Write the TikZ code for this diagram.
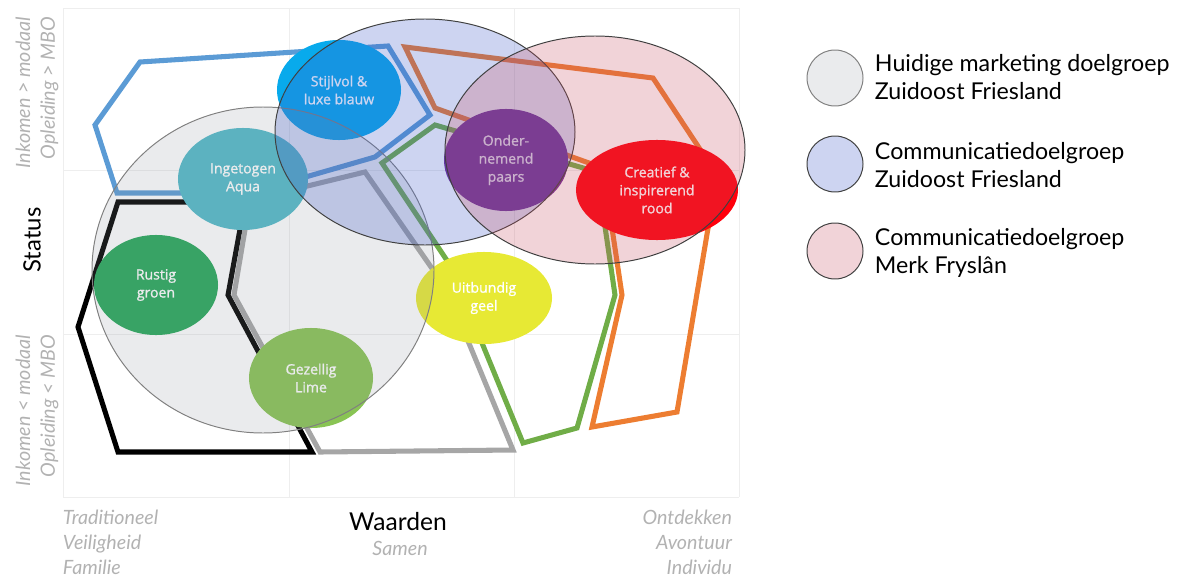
\documentclass[tikz,border=0pt]{standalone}
\usepackage{fontspec}
\setmainfont{Lato}
\newfontfamily\blobfont[FakeBold=1.2]{Open Sans}
\usetikzlibrary{shapes.geometric}

\definecolor{raster}{RGB}{238,238,238}
\definecolor{lijnblauw}{RGB}{91,155,213}
\definecolor{lijnoranje}{RGB}{237,125,49}
\definecolor{lijngroen}{RGB}{112,173,71}
\definecolor{lijngrijs}{RGB}{166,166,166}
\definecolor{stijlvol}{RGB}{8,170,236}
\definecolor{aqua}{RGB}{82,186,201}
\definecolor{rustig}{RGB}{38,168,90}
\definecolor{lime}{RGB}{137,196,84}
\definecolor{geel}{RGB}{231,233,52}
\definecolor{paars}{RGB}{112,44,150}
\definecolor{rood}{RGB}{255,0,12}
\definecolor{vulgrijs}{RGB}{140,145,155}
\definecolor{vulblauw}{RGB}{60,90,200}
\definecolor{vulroze}{RGB}{200,80,100}
\definecolor{asgrijs}{RGB}{178,178,178}

\begin{document}
\begin{tikzpicture}[x=0.025cm, y=-0.025cm,
    raster lijn/.style={raster, line width=0.6pt},
    profiel/.style={line width=3.6pt},
    blob/.style 2 args={ellipse, inner sep=0pt, minimum width=#1, minimum height=#2,
      text=white, align=center, font=\blobfont\fontsize{10}{12.8}\selectfont},
    doelgroep grijs/.style={fill=vulgrijs, fill opacity=0.18, draw=black!50, line width=0.7pt},
    doelgroep blauw/.style={fill=vulblauw, fill opacity=0.26, draw=black!75, line width=0.7pt},
    doelgroep roze/.style={fill=vulroze, fill opacity=0.25, draw=black!75, line width=0.7pt},
    as/.style={asgrijs, font=\itshape\fontsize{14}{17.7}\selectfont},
    legenda/.style={anchor=west, align=left, font=\fontsize{16.5}{20}\selectfont}]
  \useasboundingbox (0,0) rectangle (1183,578);

  % raster
  \foreach \x in {63,289,514,739}
    \draw[raster lijn] (\x,8) -- (\x,497);
  \foreach \y in {8,170,334,497}
    \draw[raster lijn] (63,\y) -- (739,\y);

  % profielen
  \draw[profiel, lijnblauw] (140,62) -- (95,125) -- (117,193) -- (250,193)
    -- (375,157) -- (430,115) -- (388,46) -- cycle;
  \draw[profiel, black] (118,202) -- (245,202) -- (228,295) -- (312,452)
    -- (118,452) -- (78,327) -- cycle;
  \draw[profiel, lijngrijs] (250,200) -- (365,172) -- (447,290) -- (513,450)
    -- (320,452) -- (234,295) -- cycle;
  \draw[profiel, lijngroen] (382,163) -- (435,125) -- (597,172) -- (615,295)
    -- (577,428) -- (523,443) -- (450,265) -- cycle;
  \draw[profiel, lijnoranje] (405,47) -- (653,78) -- (717,175) -- (677,412)
    -- (592,427) -- (622,295) -- (603,168) -- (435,108) -- cycle;

  % kleuren
  \node[blob={3.1cm}{2.5cm}, fill=stijlvol] (stijlvol) at (339,90) {Stijlvol \&\\luxe blauw};
  \node[blob={3.25cm}{2.55cm}, fill=aqua] (aqua) at (243,179) {Ingetogen\\Aqua};
  \node[blob={3.1cm}{2.5cm}, fill=rustig] (rustig) at (156,285) {Rustig\\groen};
  \node[blob={3.1cm}{2.5cm}, fill=lime] (lime) at (311,378) {Gezellig\\Lime};
  \node[blob={3.4cm}{2.3cm}, fill=geel] (geel) at (484,298) {Uitbundig\\geel};
  \node[blob={3.1cm}{2.55cm}, fill=paars] (paars) at (506,160) {Onder-\\nemend\\paars};
  \node[blob={4.05cm}{2.5cm}, fill=rood] (rood) at (657,190) {Creatief \&\\inspirerend\\rood};

  % doelgroepen
  \draw[doelgroep grijs] (263,270) ellipse [x radius=171, y radius=163];
  \draw[doelgroep blauw] (425,132) ellipse [x radius=150, y radius=113];
  \draw[doelgroep roze] (595,150) ellipse [x radius=150, y radius=114];

  % legenda
  \draw[doelgroep grijs] (835,78) circle [radius=28];
  \draw[doelgroep blauw] (835,164) circle [radius=28];
  \draw[doelgroep roze] (835,251) circle [radius=28];
  \node[legenda] (leg1) at (870,77) {Huidige marketing doelgroep\\Zuidoost Friesland};
  \node[legenda] (leg2) at (870,165) {Communicatiedoelgroep\\Zuidoost Friesland};
  \node[legenda] (leg3) at (870,253) {Communicatiedoelgroep\\Merk Fryslân};

  % assen
  \node[rotate=90, font=\fontsize{17}{20}\selectfont] (status) at (32,240) {Status};
  \node[as, rotate=90, anchor=east, align=right] (hoog) at (37,12) {Inkomen > modaal\\Opleiding > MBO};
  \node[as, rotate=90, anchor=east, align=right] (laag) at (37,330) {Inkomen < modaal\\Opleiding < MBO};
  \node[font=\fontsize{17.5}{20}\selectfont] (waarden) at (398,522) {Waarden};
  \node[as] (samen) at (400,548) {Samen};
  \node[as, anchor=north west, align=left] (links) at (58,505) {Traditioneel\\Veiligheid\\Familie};
  \node[as, anchor=north east, align=right] (rechts) at (737,505) {Ontdekken\\Avontuur\\Individu};
\end{tikzpicture}
\end{document}
